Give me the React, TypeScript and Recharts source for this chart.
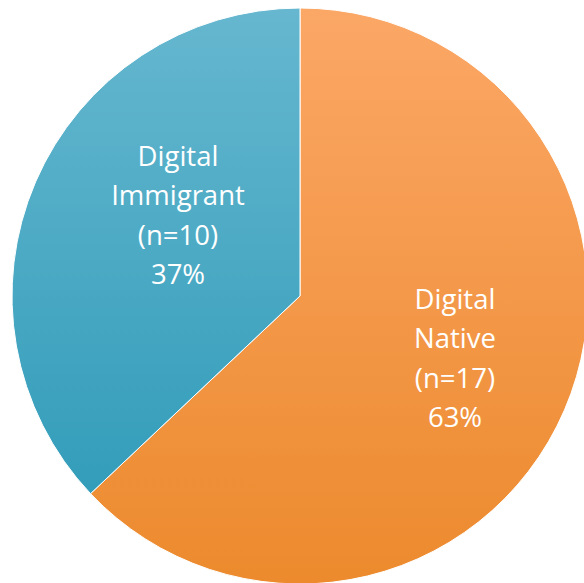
import { PieChart, Pie, Cell } from "recharts";

const groups = ["Digital Native", "Digital Immigrant"];
const counts = [17, 10];
const shares = ["63%", "37%"];

const data = groups.map((g, i) => ({ name: g, value: counts[i], share: shares[i] }));

const grads = [
  { id: "gNative", top: "#FBA766", bottom: "#EC8A2D" },
  { id: "gImmigrant", top: "#66B7CF", bottom: "#339DBA" },
];

// label centres tuned to match the original layout
const labelPos = [
  { x: 455, y: 309 },
  { x: 178, y: 166 },
];

const LINE = 39.3;

function renderLabel(props: any) {
  const i = props.index;
  const d = data[i];
  const p = labelPos[i];
  const [first, second] = d.name.split(" ");
  const lines = [first, second, `(n=${d.value})`, d.share];
  return (
    <text
      x={p.x}
      y={p.y}
      fill="#ffffff"
      textAnchor="middle"
      fontFamily="Open Sans, sans-serif"
      fontSize={27.5}
    >
      {lines.map((l, k) => (
        <tspan key={k} x={p.x} y={p.y + k * LINE}>
          {l}
        </tspan>
      ))}
    </text>
  );
}

export default function App() {
  return (
    <div style={{ position: "absolute", left: 0, top: 0, width: 584, height: 583, background: "#fff" }}>
      <PieChart width={584} height={583} margin={{ top: 0, right: 0, bottom: 0, left: 0 }}>
        <defs>
          {grads.map((g) => (
            <linearGradient key={g.id} id={g.id} x1="0" y1="0" x2="0" y2="1">
              <stop offset="0%" stopColor={g.top} />
              <stop offset="100%" stopColor={g.bottom} />
            </linearGradient>
          ))}
        </defs>
        <Pie
          data={data}
          dataKey="value"
          nameKey="name"
          cx={300}
          cy={296}
          outerRadius={288}
          startAngle={90}
          endAngle={-270}
          stroke="#ffffff"
          strokeWidth={1}
          label={renderLabel}
          labelLine={false}
          isAnimationActive={false}
        >
          {data.map((d, i) => (
            <Cell key={d.name} fill={`url(#${grads[i].id})`} />
          ))}
        </Pie>
      </PieChart>
    </div>
  );
}
